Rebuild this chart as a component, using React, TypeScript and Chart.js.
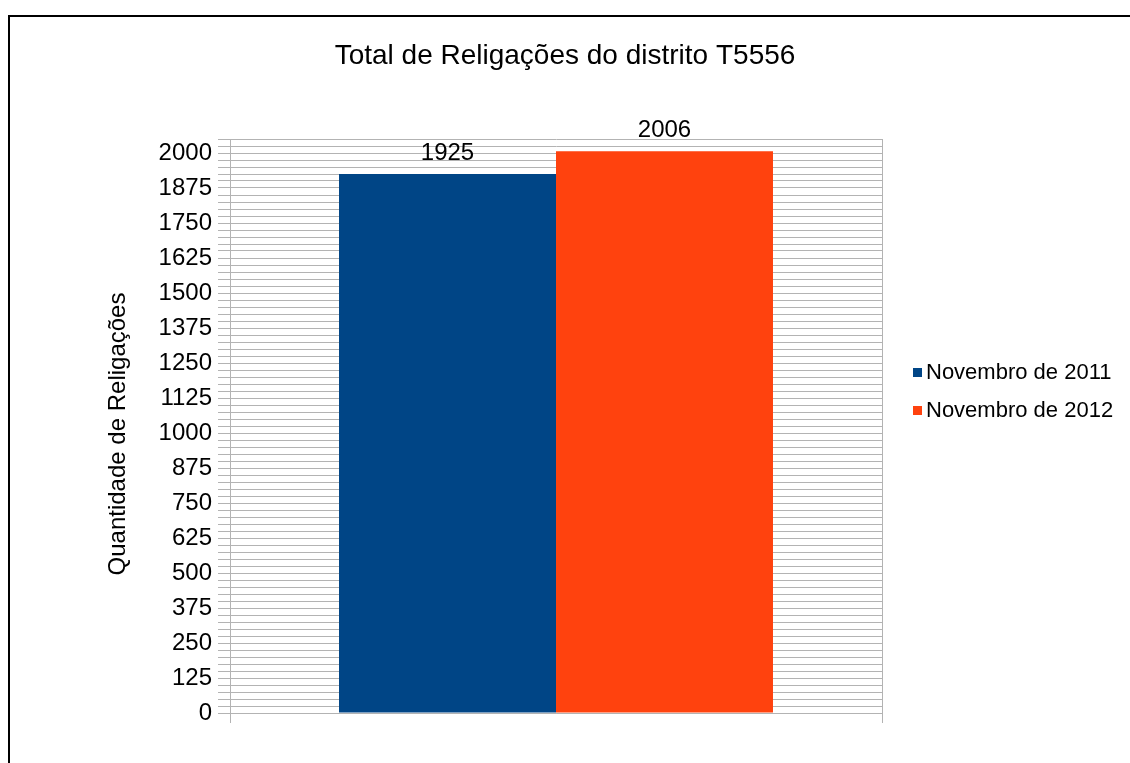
import React, { useEffect, useRef } from "react";
import { Chart, registerables } from "chart.js";

Chart.register(...registerables);

const titleText = "Total de Religações do distrito T5556";
const yAxisTitle = "Quantidade de Religações";
const categories = [""];
const seriesNames = ["Novembro de 2011", "Novembro de 2012"];
const series2011 = [1925];
const series2012 = [2006];
const seriesColors = ["#004586", "#ff420e"];
const yMin = 0;
const yMax = 2050;
const yStep = 25;
const yLabelStep = 125;

const FONT = "'Liberation Sans', Arial, sans-serif";

const valueLabels = {
  id: "valueLabels",
  afterDatasetsDraw(chart: any) {
    const ctx = chart.ctx;
    ctx.save();
    ctx.font = `24px ${FONT}`;
    ctx.fillStyle = "#000";
    ctx.textAlign = "center";
    ctx.textBaseline = "alphabetic";
    chart.data.datasets.forEach((ds: any, i: number) => {
      const meta = chart.getDatasetMeta(i);
      meta.data.forEach((bar: any, j: number) => {
        ctx.fillText(String(ds.data[j]), bar.x, bar.y - 14);
      });
    });
    ctx.restore();
  },
};

const textDecor = {
  id: "textDecor",
  afterDraw(chart: any) {
    const ctx = chart.ctx;
    ctx.save();
    // chart title
    ctx.fillStyle = "#000";
    ctx.font = `28px ${FONT}`;
    ctx.textAlign = "center";
    ctx.textBaseline = "middle";
    ctx.fillText(titleText, chart.width / 2, 56);
    // y axis title
    ctx.save();
    ctx.translate(118, 434);
    ctx.rotate(-Math.PI / 2);
    ctx.font = `24px ${FONT}`;
    ctx.fillText(yAxisTitle, 0, 0);
    ctx.restore();
    // legend
    ctx.font = `22px ${FONT}`;
    ctx.textBaseline = "middle";
    ctx.textAlign = "left";
    const x = chart.chartArea.right + 31;
    const y0 = 372;
    const gap = 38;
    chart.data.datasets.forEach((ds: any, i: number) => {
      const y = y0 + i * gap;
      ctx.fillStyle = ds.backgroundColor;
      ctx.fillRect(x, y - 4, 9, 9);
      ctx.fillStyle = "#000";
      ctx.fillText(ds.label, x + 13, y + 1);
    });
    ctx.restore();
  },
};

export default function App() {
  const ref = useRef<HTMLCanvasElement>(null);

  useEffect(() => {
    if (!ref.current) return;
    const chart = new Chart(ref.current, {
      type: "bar",
      data: {
        labels: categories,
        datasets: [
          { label: seriesNames[0], data: series2011, backgroundColor: seriesColors[0] },
          { label: seriesNames[1], data: series2012, backgroundColor: seriesColors[1] },
        ],
      },
      options: {
        animation: false,
        responsive: false,
        devicePixelRatio: 1,
        layout: { padding: { left: 100, top: 139, right: 248, bottom: 40 } },
        datasets: { bar: { categoryPercentage: 0.6656, barPercentage: 1 } },
        plugins: {
          legend: { display: false },
          tooltip: { enabled: false },
          title: { display: false },
        },
        scales: {
          x: {
            ticks: { display: false },
            grid: { display: true, color: "#b3b3b3", tickLength: 10, offset: true },
            border: { color: "#b3b3b3" },
            afterFit: (s: any) => { s.height = 10; },
          },
          y: {
            min: yMin,
            max: yMax,
            ticks: {
              stepSize: yStep,
              autoSkip: false,
              padding: 6,
              color: "#000",
              font: { family: FONT, size: 24 },
              callback: (v: any) => (Number(v) % yLabelStep === 0 ? String(v) : ""),
            },
            grid: { color: "#b3b3b3", tickLength: 12 },
            border: { color: "#b3b3b3" },
            afterFit: (s: any) => { s.width = 130; },
          },
        },
      },
      plugins: [valueLabels, textDecor],
    });
    return () => chart.destroy();
  }, []);

  return (
    <div style={{ position: "fixed", left: 0, top: 0, width: 1130, height: 763, overflow: "hidden", background: "#fff" }}>
      <div style={{ position: "absolute", left: 8, top: 15, width: 1200, height: 900, border: "2px solid #000", boxSizing: "border-box" }} />
      <canvas ref={ref} width={1130} height={763} style={{ position: "absolute", left: 0, top: 0, width: 1130, height: 763 }} />
    </div>
  );
}
